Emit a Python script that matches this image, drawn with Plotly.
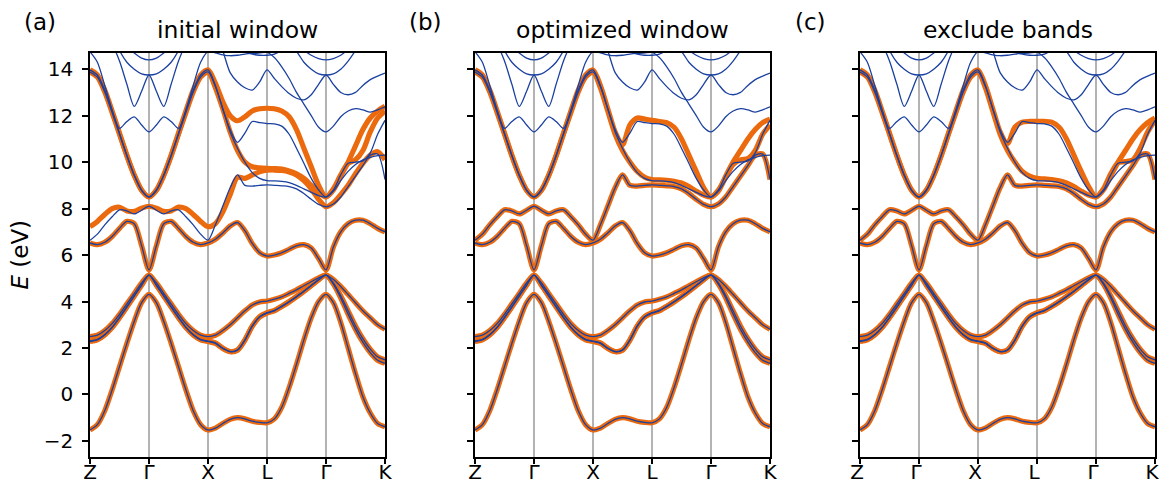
import plotly.graph_objects as go

# ---------------- data ----------------
K_PATH = [0.0, 0.125, 0.25, 0.375, 0.5, 0.625, 0.75, 0.875,
          1.0, 1.125, 1.25, 1.375, 1.5, 1.625, 1.75, 1.875,
          2.0, 2.125, 2.25, 2.375, 2.5, 2.625, 2.75, 2.875,
          3.0, 3.125, 3.25, 3.375, 3.5, 3.625, 3.75, 3.875,
          4.0, 4.125, 4.25, 4.375, 4.5, 4.625, 4.75, 4.875, 5.0]
K_TICKS = [0, 1, 2, 3, 4, 5]
K_LABELS = ["Z", "Γ", "X", "L", "Γ", "K"]
E_TICKS = [-2, 0, 2, 4, 6, 8, 10, 12, 14]
PANEL_LABELS = ["(a)", "(b)", "(c)"]
PANEL_TITLES = ["initial window", "optimized window", "exclude bands"]

# DFT bands (blue)
BAND_1 = [-1.53, -1.3, -0.7, 0.2, 1.2, 2.2, 3.15, 3.95, 4.31,
          3.95, 3.15, 2.2, 1.2, 0.2, -0.7, -1.3, -1.53,
          -1.45, -1.25, -1.07, -1.0, -1.05, -1.15, -1.2, -1.22,
          -1.05, -0.55, 0.3, 1.3, 2.35, 3.3, 4.0, 4.31,
          3.95, 3.1, 2.0, 0.9, -0.1, -0.8, -1.25, -1.39]
BAND_2 = [2.49, 2.55, 2.75, 3.05, 3.45, 3.9, 4.35, 4.8, 5.14,
          4.8, 4.35, 3.9, 3.45, 3.05, 2.75, 2.55, 2.49,
          2.55, 2.75, 3.0, 3.3, 3.6, 3.85, 3.98, 4.02,
          4.1, 4.2, 4.35, 4.5, 4.68, 4.85, 5.02, 5.14,
          4.95, 4.65, 4.3, 3.95, 3.6, 3.3, 3.0, 2.81]
BAND_3 = [2.30, 2.37, 2.58, 2.9, 3.32, 3.78, 4.25, 4.72, 5.14,
          4.72, 4.25, 3.78, 3.32, 2.9, 2.58, 2.37, 2.30,
          2.22, 2.0, 1.85, 1.92, 2.35, 2.95, 3.35, 3.52,
          3.62, 3.8, 4.0, 4.22, 4.45, 4.7, 4.95, 5.14,
          4.8, 4.25, 3.6, 2.95, 2.4, 1.95, 1.62, 1.49]
BAND_4 = [2.28, 2.35, 2.56, 2.88, 3.3, 3.76, 4.23, 4.7, 5.14,
          4.7, 4.23, 3.76, 3.3, 2.88, 2.56, 2.35, 2.28,
          2.2, 1.98, 1.84, 1.9, 2.33, 2.93, 3.33, 3.5,
          3.6, 3.78, 3.98, 4.2, 4.43, 4.68, 4.93, 5.14,
          4.75, 4.15, 3.45, 2.8, 2.25, 1.8, 1.47, 1.34]
BAND_5 = [6.52, 6.45, 6.55, 6.8, 7.15, 7.45, 7.35, 6.4, 5.36,
          6.4, 7.35, 7.45, 7.15, 6.8, 6.55, 6.45, 6.52,
          6.68, 6.95, 7.25, 7.4, 7.05, 6.5, 6.1, 5.96,
          6.0, 6.1, 6.25, 6.4, 6.45, 6.3, 5.85, 5.36,
          6.35, 7.0, 7.35, 7.5, 7.5, 7.35, 7.15, 7.0]
BAND_6 = [6.64, 6.9, 7.3, 7.65, 7.95, 7.9, 7.77, 7.93, 8.1,
          7.93, 7.77, 7.9, 7.95, 7.65, 7.3, 6.9, 6.64,
          7.3, 8.1, 8.9, 9.45, 9.0, 8.97, 9.0, 9.02,
          9.0, 8.98, 8.95, 8.85, 8.65, 8.4, 8.18, 8.08,
          8.2, 8.5, 8.95, 9.4, 9.85, 10.3, 10.35, 9.25]
PARA_1 = [13.97, 13.75, 13.1, 12.2, 11.25, 10.3, 9.45, 8.8, 8.5,
          8.8, 9.45, 10.3, 11.25, 12.2, 13.1, 13.75, 13.97,
          13.3, 12.3, 11.3, 10.6, 10.0, 9.55, 9.3, 9.2,
          9.19, 9.17, 9.12, 9.0, 8.85, 8.7, 8.56, 8.5,
          8.8, 9.45, 9.95, 10.0, 10.05, 10.4, 11.2, 11.8]
PARA_2 = [13.88, 13.66, 13.02, 12.13, 11.2, 10.26, 9.42, 8.78, 8.5,
          8.78, 9.42, 10.26, 11.2, 12.13, 13.02, 13.66, 13.88,
          13.25, 12.3, 11.4, 10.85, 11.25, 11.75, 11.7, 11.66,
          11.65, 11.55, 11.2, 10.6, 9.95, 9.3, 8.8, 8.5,
          8.75, 9.2, 9.6, 9.9, 10.1, 10.2, 10.28, 10.3]
UPPER_W = [14.75, 14.3, 13.3, 12.25, 11.45, 11.75, 11.95, 11.6, 11.3,
           11.6, 11.95, 11.75, 11.45, 12.25, 13.3, 14.3, 14.75,
           14.7, 14.62, 14.58, 14.6, 14.65, 14.68, 14.7, 14.72,
           14.5, 14.1, 13.6, 13.0, 12.5, 12.0, 11.5, 11.3,
           11.55, 11.95, 12.2, 12.3, 12.25, 12.15, 12.25, 12.38]
UPPER_V = [16.5, 16.2, 15.7, 15.1, 14.35, 13.35, 12.4, 13.05, 13.75,
           13.05, 12.4, 13.35, 14.35, 15.1, 15.7, 16.2, 16.5,
           15.6, 14.8, 13.85, 13.45, 13.2, 13.1, 13.45, 13.97,
           13.6, 13.25, 12.95, 12.75, 12.68, 12.9, 13.35, 13.75,
           13.35, 13.0, 12.9, 13.0, 13.3, 13.55, 13.7, 13.83]
UPPER_ARC = [17.2, 16.8, 16.2, 15.5, 14.8, 14.3, 14.0, 13.8, 13.75,
             13.8, 14.0, 14.3, 14.8, 15.5, 16.2, 16.8, 17.2,
             16.6, 15.9, 15.3, 14.95, 14.75, 14.65, 14.6, 14.6,
             14.65, 14.8, 14.9, 14.75, 14.3, 14.0, 13.8, 13.75,
             13.8, 14.0, 14.35, 14.8, 15.2, 15.6, 15.9, 16.1]
UPPER_SMALL = [18.0, 17.5, 17.0, 16.3, 15.6, 15.0, 14.7, 14.48, 14.4,
               14.48, 14.7, 15.0, 15.6, 16.3, 17.0, 17.5, 18.0,
               17.3, 16.6, 16.0, 15.5, 15.2, 15.0, 14.9, 14.85,
               14.9, 15.0, 15.1, 15.0, 14.8, 14.6, 14.46, 14.4,
               14.46, 14.6, 14.85, 15.1, 15.4, 15.7, 16.0, 16.2]

# Wannier-interpolated bands (orange), panel-specific upper bands
ORANGE_A_6 = [7.22, 7.45, 7.75, 8.0, 8.06, 7.9, 7.88, 8.02, 8.1,
              8.02, 7.88, 7.9, 8.06, 8.0, 7.75, 7.45, 7.22,
              7.35, 7.85, 8.6, 9.35, 9.3, 9.45, 9.58, 9.65,
              9.66, 9.64, 9.58, 9.45, 9.2, 8.85, 8.4, 8.08,
              8.25, 8.6, 9.0, 9.5, 9.95, 10.3, 10.45, 10.1]
ORANGE_A_7 = [13.97, 13.75, 13.1, 12.2, 11.25, 10.3, 9.45, 8.8, 8.5,
              8.8, 9.45, 10.3, 11.25, 12.2, 13.1, 13.75, 13.97,
              13.4, 12.6, 12.0, 11.78, 11.95, 12.2, 12.3, 12.32,
              12.3, 12.2, 11.95, 11.4, 10.6, 9.8, 9.0, 8.5,
              8.85, 9.45, 9.95, 10.1, 10.5, 11.3, 11.9, 12.2]
ORANGE_A_8 = [13.88, 13.66, 13.02, 12.13, 11.2, 10.26, 9.42, 8.78, 8.5,
              8.78, 9.42, 10.26, 11.2, 12.13, 13.02, 13.66, 13.88,
              13.2, 12.3, 11.3, 10.5, 10.0, 9.8, 9.75, 9.73,
              9.72, 9.7, 9.62, 9.5, 9.3, 9.0, 8.7, 8.5,
              8.8, 9.4, 10.0, 10.7, 11.4, 11.9, 12.2, 12.4]
ORANGE_B_7 = [13.97, 13.75, 13.1, 12.2, 11.25, 10.3, 9.45, 8.8, 8.5,
              8.8, 9.45, 10.3, 11.25, 12.2, 13.1, 13.75, 13.97,
              13.3, 12.3, 11.3, 10.75, 11.6, 11.9, 11.85, 11.8,
              11.75, 11.7, 11.5, 11.0, 10.3, 9.6, 8.9, 8.5,
              8.8, 9.35, 9.9, 10.1, 10.15, 10.5, 11.2, 11.6]
ORANGE_B_8 = [13.88, 13.66, 13.02, 12.13, 11.2, 10.26, 9.42, 8.78, 8.5,
              8.78, 9.42, 10.26, 11.2, 12.13, 13.02, 13.66, 13.88,
              13.2, 12.2, 11.2, 10.5, 10.0, 9.6, 9.35, 9.25,
              9.24, 9.22, 9.18, 9.1, 8.95, 8.75, 8.58, 8.5,
              8.75, 9.4, 10.0, 10.5, 11.0, 11.4, 11.7, 11.85]
ORANGE_C_7 = [13.97, 13.75, 13.1, 12.2, 11.25, 10.3, 9.45, 8.8, 8.5,
              8.8, 9.45, 10.3, 11.25, 12.2, 13.1, 13.75, 13.97,
              13.3, 12.3, 11.3, 10.8, 11.5, 11.72, 11.75, 11.75,
              11.75, 11.72, 11.5, 11.0, 10.3, 9.6, 8.95, 8.5,
              8.85, 9.5, 9.98, 10.02, 10.1, 10.6, 11.3, 11.8]
ORANGE_C_8 = [13.88, 13.66, 13.02, 12.13, 11.2, 10.26, 9.42, 8.78, 8.5,
              8.78, 9.42, 10.26, 11.2, 12.13, 13.02, 13.66, 13.88,
              13.2, 12.2, 11.2, 10.5, 10.0, 9.6, 9.4, 9.3,
              9.28, 9.25, 9.2, 9.1, 8.95, 8.75, 8.58, 8.5,
              8.8, 9.4, 10.0, 10.5, 11.0, 11.4, 11.7, 11.9]

BLUE_BANDS = [BAND_1, BAND_2, BAND_3, BAND_4, BAND_5, BAND_6, PARA_1, PARA_2,
              UPPER_W, UPPER_V, UPPER_ARC, UPPER_SMALL]
ORANGE_PANELS = [
    [BAND_1, BAND_2, BAND_3, BAND_4, BAND_5, ORANGE_A_6, ORANGE_A_7, ORANGE_A_8],
    [BAND_1, BAND_2, BAND_3, BAND_4, BAND_5, BAND_6, ORANGE_B_7, ORANGE_B_8],
    [BAND_1, BAND_2, BAND_3, BAND_4, BAND_5, BAND_6, ORANGE_C_7, ORANGE_C_8],
]

# ---------------- style ----------------
W, H = 1159, 485
ORANGE = "#ec6a0e"
BLUE = "#1a40a0"
FONT = "DejaVu Sans"
X_DOMAINS = [(90 / W, 385 / W), (475 / W, 770 / W), (860 / W, 1155 / W)]
Y_DOMAIN = ((H - 456.5) / H, (H - 52.7) / H)
Y_RANGE = [-2.67, 14.71]
TICK_SIZE = 20

fig = go.Figure()

for p in range(3):
    suffix = "" if p == 0 else str(p + 1)
    for band in ORANGE_PANELS[p]:
        fig.add_trace(go.Scatter(
            x=K_PATH, y=band, mode="lines",
            line=dict(color=ORANGE, width=5.2, shape="spline", smoothing=0.8),
            xaxis="x" + suffix, yaxis="y" + suffix,
            showlegend=False, hoverinfo="skip"))
    for band in BLUE_BANDS:
        fig.add_trace(go.Scatter(
            x=K_PATH, y=band, mode="lines",
            line=dict(color=BLUE, width=1.3, shape="spline", smoothing=0.8),
            xaxis="x" + suffix, yaxis="y" + suffix,
            showlegend=False, hoverinfo="skip"))

layout = dict(
    width=W, height=H,
    margin=dict(l=0, r=0, t=0, b=0, autoexpand=False),
    paper_bgcolor="white", plot_bgcolor="white",
    showlegend=False,
)
annotations = []
for p in range(3):
    suffix = "" if p == 0 else str(p + 1)
    layout["xaxis" + suffix] = dict(
        domain=list(X_DOMAINS[p]), range=[0, 5], anchor="y" + suffix,
        tickmode="array", tickvals=K_TICKS, ticktext=K_LABELS,
        ticks="outside", ticklen=6, tickwidth=1.5, tickcolor="black",
        ticklabelstandoff=-9, ticklabeloverflow="allow",
        ticklabelshift=(-3 if p == 2 else 0),
        showline=True, mirror=True, linecolor="black", linewidth=1.6,
        showgrid=True, gridcolor="#b3b3b3", gridwidth=2, zeroline=False,
        tickfont=dict(family=FONT, size=TICK_SIZE, color="black"),
        automargin=False, fixedrange=True,
    )
    layout["yaxis" + suffix] = dict(
        domain=list(Y_DOMAIN), range=Y_RANGE, anchor="x" + suffix,
        tickmode="array", tickvals=E_TICKS,
        ticks="outside", ticklen=6, tickwidth=1.5, tickcolor="black",
        showticklabels=(p == 0), ticklabelstandoff=5,
        showline=True, mirror=True, linecolor="black", linewidth=1.6,
        showgrid=False, zeroline=False,
        tickfont=dict(family=FONT, size=TICK_SIZE, color="black"),
        automargin=False, fixedrange=True,
    )
    cx = (X_DOMAINS[p][0] + X_DOMAINS[p][1]) / 2
    annotations.append(dict(
        text=PANEL_TITLES[p], x=cx, y=1 - 30 / H, xref="paper", yref="paper",
        xanchor="center", yanchor="middle", showarrow=False,
        font=dict(family=FONT, size=23.5, color="black")))
    annotations.append(dict(
        text=PANEL_LABELS[p], x=X_DOMAINS[p][0] - 50 / W, y=1 - 22 / H,
        xref="paper", yref="paper", xanchor="center", yanchor="middle",
        showarrow=False, font=dict(family=FONT, size=23, color="black")))

annotations.append(dict(
    text="<i>E</i> (eV)", x=20 / W, y=(Y_DOMAIN[0] + Y_DOMAIN[1]) / 2,
    xref="paper", yref="paper", xanchor="center", yanchor="middle",
    textangle=-90, showarrow=False,
    font=dict(family=FONT, size=23, color="black")))
layout["annotations"] = annotations
fig.update_layout(**layout)

fig.write_html("out.html", config={"displayModeBar": False},
               post_script="document.body.style.margin='0';")
